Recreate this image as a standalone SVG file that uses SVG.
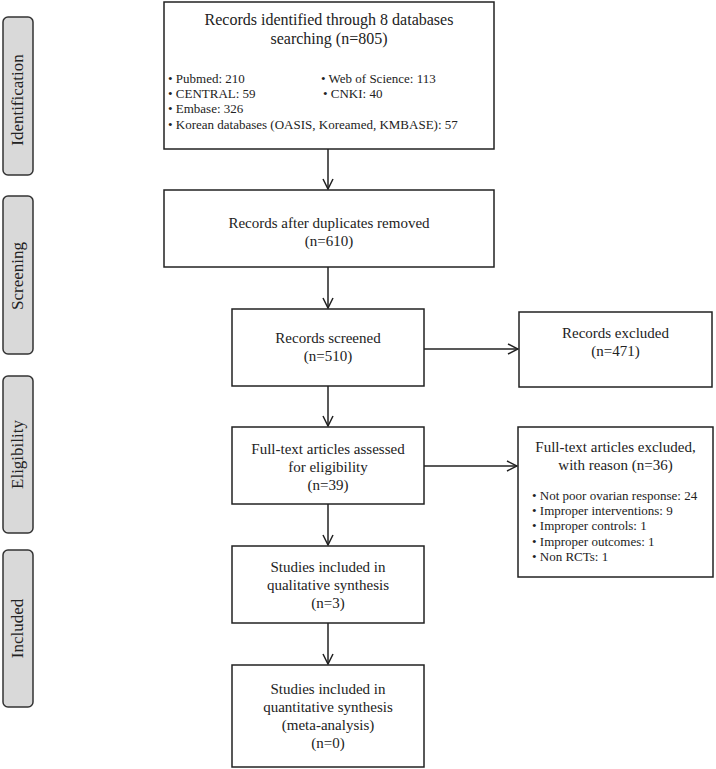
<svg xmlns="http://www.w3.org/2000/svg" width="716" height="769" viewBox="0 0 716 769">
<defs>
<style>
.box{fill:#fff;stroke:#222;stroke-width:1.5}
.lab{fill:#d9d9d9;stroke:#333;stroke-width:1.5}
.t{font-family:"Liberation Serif","Times New Roman",serif;font-size:15px;fill:#222;text-anchor:middle}
.h{font-size:16px}
.b{font-family:"Liberation Serif","Times New Roman",serif;font-size:13px;fill:#222}
.lt{font-family:"Liberation Serif","Times New Roman",serif;font-size:17px;fill:#222;text-anchor:middle}
.c{stroke:#222;stroke-width:1.5;fill:none}
</style>
<marker id="ah" viewBox="0 0 12 12" refX="11" refY="6" markerWidth="12" markerHeight="12" markerUnits="userSpaceOnUse" orient="auto">
<path d="M1,1 L11,6 L1,11" fill="none" stroke="#222" stroke-width="1.5"/>
</marker>
</defs>
<rect width="716" height="769" fill="#fff"/>
<g id="label-identification"><rect class="lab" x="3" y="17" width="30" height="158" rx="5"/><text class="lt" transform="translate(23,100) rotate(-90)">Identification</text></g>
<g id="label-screening"><rect class="lab" x="3" y="196" width="30" height="158" rx="5"/><text class="lt" transform="translate(23,276) rotate(-90)">Screening</text></g>
<g id="label-eligibility"><rect class="lab" x="3" y="376" width="30" height="157" rx="5"/><text class="lt" transform="translate(23,454.5) rotate(-90)">Eligibility</text></g>
<g id="label-included"><rect class="lab" x="3" y="550" width="30" height="157" rx="5"/><text class="lt" transform="translate(23,628.5) rotate(-90)">Included</text></g>

<g id="identified"><rect class="box" x="164" y="2" width="330" height="147"/>
<text class="t h" x="329" y="25">Records identified through 8 databases</text>
<text class="t h" x="329" y="44">searching (n=805)</text>
<text class="b" x="168" y="83">• Pubmed: 210</text>
<text class="b" x="168" y="98">• CENTRAL: 59</text>
<text class="b" x="168" y="113">• Embase: 326</text>
<text class="b" x="168" y="129">• Korean databases (OASIS, Koreamed, KMBASE): 57</text>
<text class="b" x="321" y="83">• Web of Science: 113</text>
<text class="b" x="323" y="98">• CNKI: 40</text>
</g>
<g id="duplicates"><rect class="box" x="164" y="190" width="330" height="77"/>
<text class="t" x="329" y="228">Records after duplicates removed</text>
<text class="t" x="329" y="246">(n=610)</text></g>
<g id="screened"><rect class="box" x="232" y="309" width="192" height="77"/>
<text class="t" x="328" y="343">Records screened</text>
<text class="t" x="328" y="361">(n=510)</text></g>
<g id="excluded"><rect class="box" x="519" y="312" width="193" height="75"/>
<text class="t" x="615.5" y="338">Records excluded</text>
<text class="t" x="615.5" y="356">(n=471)</text></g>
<g id="fulltext"><rect class="box" x="232" y="427" width="192" height="77"/>
<text class="t" x="328" y="454">Full-text articles assessed</text>
<text class="t" x="328" y="472">for eligibility</text>
<text class="t" x="328" y="490">(n=39)</text></g>
<g id="fulltext-excluded"><rect class="box" x="518" y="427" width="195" height="150"/>
<text class="t" x="615.5" y="452">Full-text articles excluded,</text>
<text class="t" x="615.5" y="470">with reason (n=36)</text>
<text class="b" x="532" y="500">• Not poor ovarian response: 24</text>
<text class="b" x="532" y="515">• Improper interventions: 9</text>
<text class="b" x="532" y="530">• Improper controls: 1</text>
<text class="b" x="532" y="546">• Improper outcomes: 1</text>
<text class="b" x="532" y="561">• Non RCTs: 1</text></g>
<g id="qualitative"><rect class="box" x="232" y="546" width="192" height="77"/>
<text class="t" x="328" y="572">Studies included in</text>
<text class="t" x="328" y="590">qualitative synthesis</text>
<text class="t" x="328" y="608">(n=3)</text></g>
<g id="quantitative"><rect class="box" x="232" y="665" width="192" height="102"/>
<text class="t" x="328" y="694">Studies included in</text>
<text class="t" x="328" y="712">quantitative synthesis</text>
<text class="t" x="328" y="730">(meta-analysis)</text>
<text class="t" x="328" y="748">(n=0)</text></g>

<g id="connectors">
<line class="c" x1="328" y1="149" x2="328" y2="189" marker-end="url(#ah)"/>
<line class="c" x1="328" y1="267" x2="328" y2="308" marker-end="url(#ah)"/>
<line class="c" x1="328" y1="386" x2="328" y2="426" marker-end="url(#ah)"/>
<line class="c" x1="328" y1="504" x2="328" y2="545" marker-end="url(#ah)"/>
<line class="c" x1="328" y1="623" x2="328" y2="664" marker-end="url(#ah)"/>
<line class="c" x1="424" y1="349" x2="518" y2="349" marker-end="url(#ah)"/>
<line class="c" x1="424" y1="466" x2="517" y2="466" marker-end="url(#ah)"/>
</g>
</svg>
